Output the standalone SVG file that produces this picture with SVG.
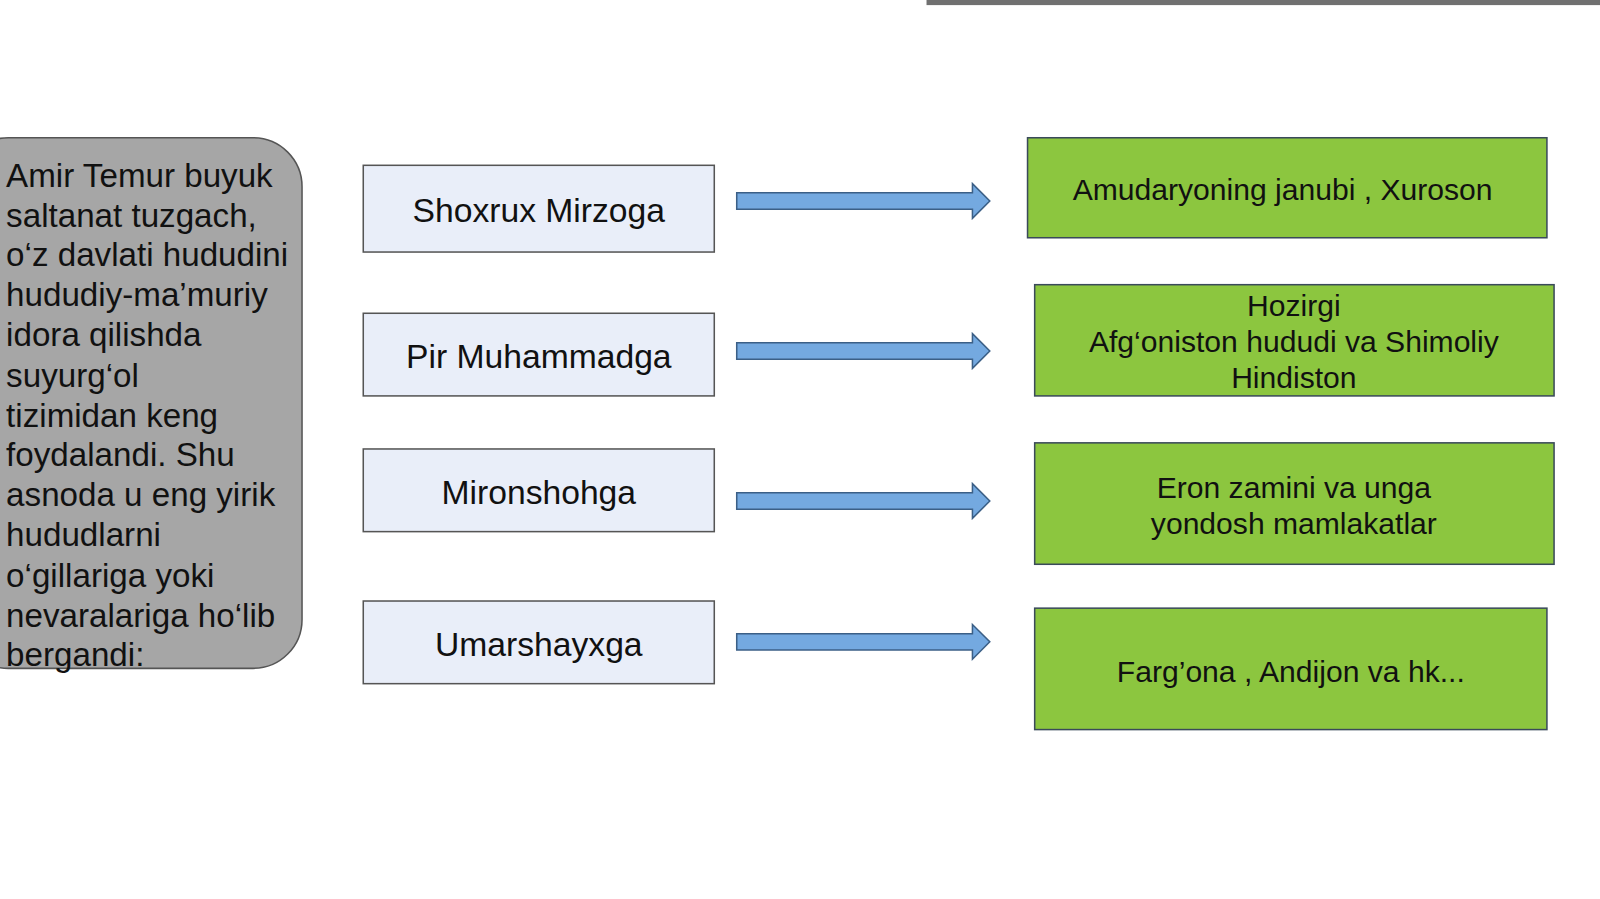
<svg xmlns="http://www.w3.org/2000/svg" width="1600" height="899" viewBox="0 0 1600 899">
<style>
text{font-family:"Liberation Sans",Arial,sans-serif;fill:#111;}
.blue{fill:#e9eef9;stroke:#555;stroke-width:1.5;}
.green{fill:#8cc63f;stroke:#3a4a5a;stroke-width:1.5;}
.arrow{fill:#74a9e0;stroke:#3b5f86;stroke-width:1.5;}
.c{text-anchor:middle;font-size:33px;}
.g{text-anchor:middle;font-size:29.5px;}
</style>
<rect width="1600" height="899" fill="#ffffff"/>
<g transform="scale(1.0204)">
<rect x="908" y="0" width="692" height="5" fill="#707070"/>
<g id="intro">
<rect x="-40" y="135" width="336" height="520" rx="48" ry="48" fill="#a6a6a6" stroke="#555" stroke-width="1.5"/>
<text font-size="32.5">
<tspan x="6" y="183">Amir Temur buyuk</tspan>
<tspan x="6" y="222">saltanat tuzgach,</tspan>
<tspan x="6" y="261">o‘z davlati hududini</tspan>
<tspan x="6" y="300">hududiy-ma’muriy</tspan>
<tspan x="6" y="339">idora qilishda</tspan>
<tspan x="6" y="379">suyurg‘ol</tspan>
<tspan x="6" y="418">tizimidan keng</tspan>
<tspan x="6" y="457">foydalandi. Shu</tspan>
<tspan x="6" y="496">asnoda u eng yirik</tspan>
<tspan x="6" y="535">hududlarni</tspan>
<tspan x="6" y="575">o‘gillariga yoki</tspan>
<tspan x="6" y="614">nevaralariga ho‘lib</tspan>
<tspan x="6" y="653">bergandi:</tspan>
</text>
</g>
<g id="n1"><rect class="blue" x="356" y="162" width="344" height="85"/><text class="c" x="528" y="218">Shoxrux Mirzoga</text></g>
<g id="n2"><rect class="blue" x="356" y="307" width="344" height="81"/><text class="c" x="528" y="361">Pir Muhammadga</text></g>
<g id="n3"><rect class="blue" x="356" y="440" width="344" height="81"/><text class="c" x="528" y="494">Mironshohga</text></g>
<g id="n4"><rect class="blue" x="356" y="589" width="344" height="81"/><text class="c" x="528" y="643">Umarshayxga</text></g>
<g id="connectors">
<polygon class="arrow" points="722,189 953,189 953,180 970,197 953,214 953,205 722,205"/>
<polygon class="arrow" points="722,336 953,336 953,327 970,344 953,361 953,352 722,352"/>
<polygon class="arrow" points="722,483 953,483 953,474 970,491 953,508 953,499 722,499"/>
<polygon class="arrow" points="722,621 953,621 953,612 970,629 953,646 953,637 722,637"/>
</g>
<g id="g1"><rect class="green" x="1007" y="135" width="509" height="98"/><text class="g" x="1257" y="196">Amudaryoning janubi , Xuroson</text></g>
<g id="g2"><rect class="green" x="1014" y="279" width="509" height="109"/><text class="g"><tspan x="1268" y="310">Hozirgi</tspan><tspan x="1268" y="345">Afg‘oniston hududi va Shimoliy</tspan><tspan x="1268" y="380">Hindiston</tspan></text></g>
<g id="g3"><rect class="green" x="1014" y="434" width="509" height="119"/><text class="g"><tspan x="1268" y="488">Eron zamini va unga</tspan><tspan x="1268" y="523">yondosh mamlakatlar</tspan></text></g>
<g id="g4"><rect class="green" x="1014" y="596" width="502" height="119"/><text class="g" x="1265" y="668">Farg’ona , Andijon va hk...</text></g>
</g>
</svg>
